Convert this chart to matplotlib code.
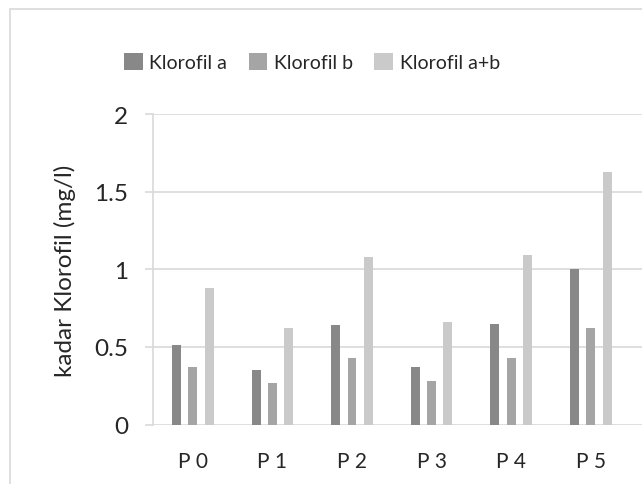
import matplotlib

matplotlib.use('Agg')
import matplotlib.pyplot as plt
from matplotlib.patches import Rectangle
import numpy as np

# Data
categories = ['P 0', 'P 1', 'P 2', 'P 3', 'P 4', 'P 5']
klorofil_a = [0.51, 0.35, 0.64, 0.37, 0.65, 1.00]
klorofil_b = [0.37, 0.27, 0.43, 0.28, 0.43, 0.62]
klorofil_ab = [0.88, 0.62, 1.08, 0.66, 1.09, 1.63]
series_names = ['Klorofil a', 'Klorofil b', 'Klorofil a+b']
y_ticks = [0, 0.5, 1, 1.5, 2]

colors = ['#888888', '#a5a5a5', '#cacaca']
grid_color = '#d9d9d9'
text_color = '#262626'

plt.rcParams['font.family'] = ['Lato', 'DejaVu Sans']

fig = plt.figure(figsize=(6.42, 4.85), dpi=100)
W, H = 642, 485
ax = fig.add_axes([153 / W, (H - 425.5) / H, (W - 153) / W, (425.5 - 115.3) / H])

# outer chart frame (only left/top edges are inside the image)
fig.patches.append(Rectangle((10 / W, -0.5), 2, 1.5 - 10 / H,
                             transform=fig.transFigure, fill=False,
                             edgecolor=grid_color, linewidth=1.2, clip_on=False))

x = np.arange(len(categories))
bar_w = 0.113
offset = 0.204
for i, vals in enumerate([klorofil_a, klorofil_b, klorofil_ab]):
    ax.bar(x + (i - 1) * offset, vals, width=bar_w, color=colors[i],
           label=series_names[i], zorder=3)

ax.set_xlim(-0.5, -0.5 + (W - 153) / 79.6)
ax.set_ylim(0, 2)
ax.set_yticks(y_ticks)
ax.set_yticklabels([str(t) for t in y_ticks])
ax.set_xticks(x)
ax.set_xticklabels(categories)

ax.yaxis.grid(True, color=grid_color, linewidth=1.2, zorder=0)
for side in ['top', 'right', 'bottom']:
    ax.spines[side].set_visible(False)
ax.spines['left'].set_color(grid_color)
ax.spines['left'].set_linewidth(1.2)
ax.tick_params(axis='y', length=6, width=1.2, color=grid_color, pad=12,
               labelsize=17.5, labelcolor=text_color)
ax.tick_params(axis='x', length=0, pad=19, labelsize=15, labelcolor=text_color)
ax.set_ylabel('kadar Klorofil (mg/l)', fontsize=17.5, color=text_color)
ax.yaxis.label.set_va('center')
ax.yaxis.set_label_coords((65 - 153) / (W - 153), 0.5)

fig.legend(loc='center', bbox_to_anchor=(312 / W, 1 - 63 / H), ncol=3,
           frameon=False, fontsize=14, handlelength=0.95, handleheight=0.95,
           handletextpad=0.35, columnspacing=1.1, labelcolor=text_color)

plt.savefig('out.png', dpi=100)
